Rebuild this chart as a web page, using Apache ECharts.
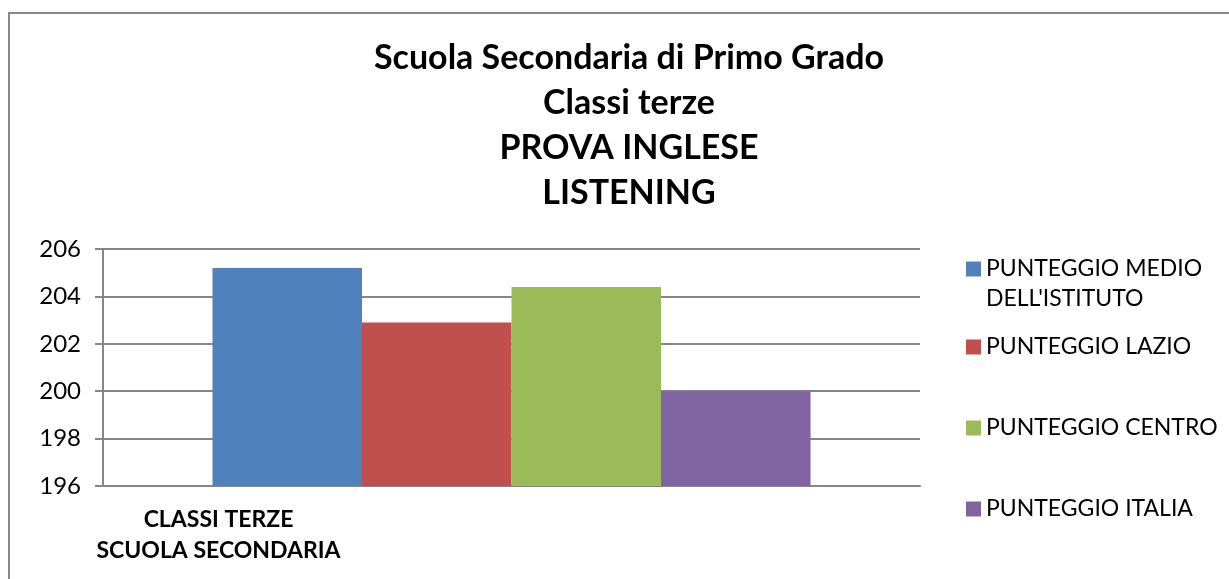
<!DOCTYPE html>
<html>
<head>
<meta charset="utf-8">
<script src="https://cdn.jsdelivr.net/npm/echarts@6/dist/echarts.min.js"></script>
<style>
  html, body { margin: 0; padding: 0; background: #fff; overflow: hidden; }
  #frame { position: absolute; left: 8px; top: 12px; width: 1400px; height: 800px;
    border-left: 2px solid #878787; border-top: 2px solid #878787; }
  #chart { position: absolute; left: 0; top: 0; width: 1229px; height: 579px; }
</style>
</head>
<body>
<div id="frame"></div>
<div id="chart"></div>
<script>
const categories = ['CLASSI TERZE\nSCUOLA SECONDARIA']
const seriesNames = ['PUNTEGGIO MEDIO DELL\'ISTITUTO', 'PUNTEGGIO LAZIO', 'PUNTEGGIO CENTRO', 'PUNTEGGIO ITALIA']
const seriesValues = [[205.2], [202.9], [204.4], [200.0]]
const seriesColors = ['#4F81BD', '#C0504D', '#9BBB59', '#8064A2']
const yTicks = { min: 196, max: 206, interval: 2 }

const font = 'Lato, Carlito, Calibri, sans-serif'
const gridColor = '#868686'

// one legend per entry so the vertical spacing can follow the reference
const legendTops = [224, 332, 413, 494]
const legends = seriesNames.map((name, i) => ({
  data: [name],
  orient: 'vertical',
  left: 966,
  top: legendTops[i],
  padding: 0,
  itemWidth: 15,
  itemHeight: 15,
  icon: 'rect',
  selectedMode: false,
  formatter: n => (i === 0 ? '\nPUNTEGGIO MEDIO\nDELL\'ISTITUTO' : n),
  textStyle: { fontFamily: font, fontSize: 23, color: '#000', lineHeight: 30 }
}))

let chart = echarts.init(document.getElementById('chart'))
chart.setOption({
  animation: false,
  backgroundColor: 'transparent',
  title: {
    text: 'Scuola Secondaria di Primo Grado\nClassi terze\nPROVA INGLESE\nLISTENING',
    left: 624,
    top: 31,
    textAlign: 'center',
    textStyle: { fontFamily: font, fontSize: 34, fontWeight: 'bold', color: '#000', lineHeight: 45 }
  },
  legend: legends,
  grid: { left: 103, right: 309, top: 249, bottom: 93, containLabel: false },
  xAxis: {
    type: 'category',
    data: categories,
    axisLine: { show: true, lineStyle: { color: gridColor, width: 2 } },
    axisTick: { show: false },
    axisLabel: {
      fontFamily: font,
      fontSize: 23,
      fontWeight: 'bold',
      color: '#000',
      lineHeight: 31,
      margin: 18,
      padding: [0, 586, 0, 0]
    }
  },
  yAxis: {
    type: 'value',
    min: yTicks.min,
    max: yTicks.max,
    interval: yTicks.interval,
    axisLine: { show: true, lineStyle: { color: gridColor, width: 2 } },
    axisTick: { show: true, length: 8, lineStyle: { color: gridColor, width: 2 } },
    splitLine: { show: true, lineStyle: { color: gridColor, width: 2 } },
    axisLabel: { fontFamily: font, fontSize: 24, color: '#000', margin: 22 }
  },
  series: seriesNames.map((name, i) => ({
    name: name,
    type: 'bar',
    data: seriesValues[i],
    itemStyle: { color: seriesColors[i] },
    barGap: '0%',
    barCategoryGap: '26.8%'
  }))
})

window.addEventListener('resize', () => {
  chart.resize()
})
</script>
</body>
</html>
